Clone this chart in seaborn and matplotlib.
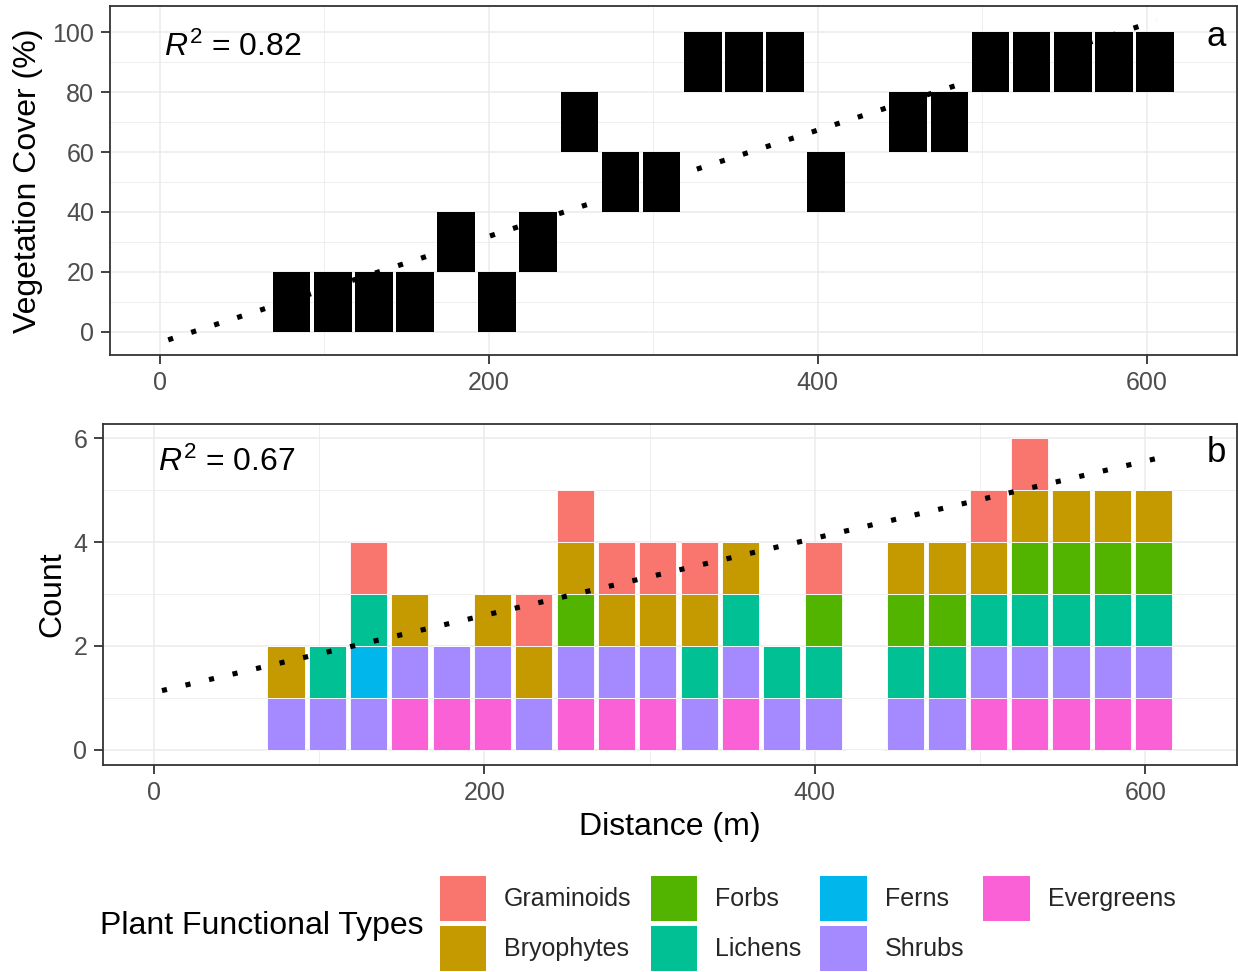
import numpy as np
import pandas as pd
import matplotlib
matplotlib.use("Agg")
import matplotlib.pyplot as plt
from matplotlib.patches import Patch
from matplotlib.ticker import MultipleLocator
import seaborn as sns

# ---------------- data ----------------
distance = [80, 105, 130, 155, 180, 205, 230, 255, 280, 305, 330,
            355, 380, 405, 455, 480, 505, 530, 555, 580, 605]
# vegetation cover class (tile centre, class width 20 %)
cover_mid = [10, 10, 10, 10, 30, 10, 30, 70, 50, 50, 90,
             90, 90, 50, 70, 70, 90, 90, 90, 90, 90]
cover_class_width = 20

types = ["Graminoids", "Bryophytes", "Forbs", "Lichens", "Ferns", "Shrubs", "Evergreens"]
colors = ["#F8766D", "#C49A00", "#53B400", "#00C094", "#00B6EB", "#A58AFF", "#FB61D7"]

graminoids = [0, 0, 1, 0, 0, 0, 1, 1, 1, 1, 1, 0, 0, 1, 0, 0, 1, 1, 0, 0, 0]
bryophytes = [1, 0, 0, 1, 0, 1, 1, 1, 1, 1, 1, 1, 0, 0, 1, 1, 1, 1, 1, 1, 1]
forbs      = [0, 0, 0, 0, 0, 0, 0, 1, 0, 0, 0, 0, 0, 1, 1, 1, 0, 1, 1, 1, 1]
lichens    = [0, 1, 1, 0, 0, 0, 0, 0, 0, 0, 1, 1, 1, 1, 1, 1, 1, 1, 1, 1, 1]
ferns      = [0, 0, 1, 0, 0, 0, 0, 0, 0, 0, 0, 0, 0, 0, 0, 0, 0, 0, 0, 0, 0]
shrubs     = [1, 1, 1, 1, 1, 1, 1, 1, 1, 1, 1, 1, 1, 1, 1, 1, 1, 1, 1, 1, 1]
evergreens = [0, 0, 0, 1, 1, 1, 0, 1, 1, 1, 0, 1, 0, 0, 0, 0, 1, 1, 1, 1, 1]

# linear fits
fit_x_range = [5, 606]
cover_fit_intercept, cover_fit_slope = -3.5, 0.177
count_fit_intercept, count_fit_slope = 1.105, 0.00742
r2_cover = "0.82"
r2_count = "0.67"

# ---------------- styling ----------------
sns.set_theme(style="white")
plt.rcParams["font.family"] = ["Liberation Sans", "DejaVu Sans"]
plt.rcParams["mathtext.fontset"] = "custom"
plt.rcParams["mathtext.rm"] = "Liberation Sans"
plt.rcParams["mathtext.it"] = "Liberation Sans:italic"

W, H = 1238, 972
fig = plt.figure(figsize=(W / 100, H / 100), dpi=100)


def px_axes(left, top, right, bottom):
    return fig.add_axes([left / W, 1 - bottom / H, (right - left) / W, (bottom - top) / H])


ax1 = px_axes(110, 6, 1237, 355)
ax2 = px_axes(103, 424, 1237, 765)

GRID = "#EBEBEB"
BORDER = "#333333"
TICKLAB = "#4D4D4D"


def style_axes(ax, xmaj, xmin, ymaj, ymin):
    ax.set_axisbelow(True)
    ax.xaxis.set_major_locator(MultipleLocator(xmaj))
    ax.xaxis.set_minor_locator(MultipleLocator(xmin))
    ax.yaxis.set_major_locator(MultipleLocator(ymaj))
    ax.yaxis.set_minor_locator(MultipleLocator(ymin))
    ax.grid(True, which="major", color=GRID, linewidth=1.15)
    ax.grid(True, which="minor", color=GRID, linewidth=0.6)
    for s in ax.spines.values():
        s.set_visible(True)
        s.set_color(BORDER)
        s.set_linewidth(1.3)
    ax.tick_params(which="major", direction="out", length=6.5, width=1.3, color=BORDER,
                   labelsize=18, labelcolor=TICKLAB, pad=4.8,
                   bottom=True, left=True, top=False, right=False)
    ax.tick_params(which="minor", length=0)
    ax.set_xlabel("")
    ax.set_ylabel("")
    ax.set_facecolor("white")


# ---------------- panel a ----------------
cov = np.array(cover_mid, dtype=float)
ax1.bar(distance, cover_class_width, bottom=cov - cover_class_width / 2,
        width=22.9, color="black", linewidth=0, zorder=2)
fx = np.array(fit_x_range, dtype=float)
sns.lineplot(x=fx, y=cover_fit_intercept + cover_fit_slope * fx, ax=ax1, color="black",
             linewidth=3.7, linestyle=(0, (1, 3.7)), dash_capstyle="butt", zorder=3)
style_axes(ax1, 200, 100, 20, 10)
ax1.set_xlim(-30.4, 654.9)
ax1.set_ylim(-7.67, 108.67)
ax1.text(2.5, 92, r"$R^{\mathregular{2}}$ = " + r2_cover, ha="left", va="baseline",
         fontsize=23, color="black")
ax1.text(642, 95.4, "a", ha="center", va="baseline", fontsize=25, color="black")

# ---------------- panel b ----------------
counts = {"Graminoids": graminoids, "Bryophytes": bryophytes, "Forbs": forbs,
          "Lichens": lichens, "Ferns": ferns, "Shrubs": shrubs, "Evergreens": evergreens}
rows = []
for t in types:
    for d, c in zip(distance, counts[t]):
        if c > 0:
            rows.append({"Distance": d, "Type": t, "Count": c})
df = pd.DataFrame(rows)
step = 25
sns.histplot(data=df, x="Distance", hue="Type", weights="Count", multiple="stack",
             binwidth=step, binrange=(min(distance) - step / 2, max(distance) + step / 2),
             shrink=0.9, hue_order=types, palette=colors, alpha=1,
             edgecolor="white", linewidth=0.6, legend=False, ax=ax2, zorder=2)
sns.lineplot(x=fx, y=count_fit_intercept + count_fit_slope * fx, ax=ax2, color="black",
             linewidth=3.7, linestyle=(0, (1, 3.7)), dash_capstyle="butt", zorder=3)
style_axes(ax2, 200, 100, 2, 1)
ax2.set_xlim(-30.67, 655.4)
ax2.set_ylim(-0.289, 6.27)
ax2.text(2.5, 5.36, r"$R^{\mathregular{2}}$ = " + r2_count, ha="left", va="baseline",
         fontsize=23, color="black")
ax2.text(643, 5.54, "b", ha="center", va="baseline", fontsize=25, color="black")

# ---------------- titles ----------------
fig.text(36.5 / W, 1 - 180.5 / H, "Vegetation Cover (%)", rotation=90, rotation_mode="anchor",
         ha="center", va="baseline", fontsize=23, color="black")
fig.text(60 / W, 1 - 594.5 / H, "Count", rotation=90, rotation_mode="anchor",
         ha="center", va="baseline", fontsize=23, color="black")
fig.text(670 / W, 1 - 835 / H, "Distance (m)", ha="center", va="baseline",
         fontsize=23, color="black")

# ---------------- legend ----------------
fig.text(100.5 / W, 1 - 934.3 / H, "Plant Functional Types", ha="left", va="baseline",
         fontsize=23, color="black")
handles = [Patch(facecolor=c, edgecolor="none") for c in colors]
fig.legend(handles, types, ncol=4, loc="upper left",
           bbox_to_anchor=(439.5 / W, 1 - 875.7 / H), frameon=False, fontsize=18,
           handlelength=1.86, handleheight=2.41, handletextpad=0.72,
           columnspacing=0.76, labelspacing=0.2, borderpad=0, borderaxespad=0)

fig.savefig("out.png", dpi=100, facecolor="white")
